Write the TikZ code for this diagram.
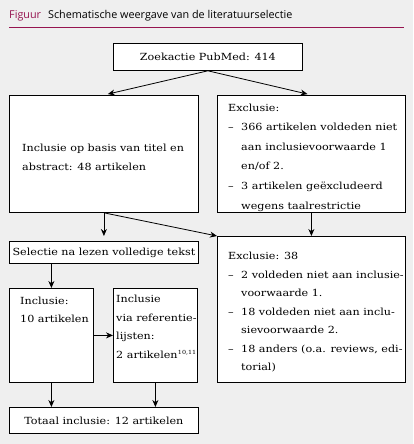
\documentclass[tikz,border=0pt]{standalone}
\usepackage{fontspec}
\setmainfont{DejaVu Serif}[FakeStretch=1.14]
\newfontfamily\titlefont{Open Sans}
\usetikzlibrary{arrows.meta}
\definecolor{bg}{RGB}{239,239,239}
\definecolor{crim}{RGB}{150,20,80}
\newcommand\myitem{\makebox[13pt][l]{–}}
\newcommand\myind{\hspace*{13pt}}
\newcommand\mysup[1]{\kern0.3pt\raisebox{3.6pt}{\fontsize{5.6}{7}\selectfont #1}}
\begin{document}
\begin{tikzpicture}[x=1pt,y=-1pt,
  box/.style={draw=black, line width=0.8pt, fill=white, inner sep=0pt, anchor=north west, font=\fontsize{9.8}{12}\selectfont},
  txt/.style={inner sep=0pt, anchor=north west, align=left},
  arr/.style={-{Stealth[length=7pt,width=6pt]}, line width=0.8pt}]
\fill[bg] (0,0) rectangle (413,444);
\useasboundingbox (0,0) rectangle (413,444);
\node[anchor=base west, inner sep=0pt, font=\titlefont\fontsize{10.8}{13}\selectfont] (title) at (9,19) {\textcolor{crim}{Figuur}\hspace{7pt}Schematische weergave van de literatuurselectie};
\draw[crim, line width=0.8pt] (9,27) -- (404,27);
\node[box, minimum width=189, minimum height=27] (zoek) at (113,43) {Zoekactie PubMed: 414};
\node[box, minimum width=189, minimum height=117] (incl) at (9,95) {};
\node[box, minimum width=188, minimum height=117] (excl1) at (217,95) {};
\node[box, minimum width=189, minimum height=22] (sel) at (9,241) {Selectie na lezen volledige tekst};
\node[box, minimum width=188, minimum height=146] (excl2) at (217,236) {};
\node[box, minimum width=84, minimum height=94] (incl10) at (9,288) {};
\node[box, minimum width=84, minimum height=94] (inclvia) at (113,288) {};
\node[box, minimum width=189, minimum height=26] (totaal) at (9,407) {Totaal inclusie: 12 artikelen};
\node[txt, font=\fontsize{9.8}{19.2}\selectfont] (tincl) at (22,143.5) {Inclusie op basis van titel en\\abstract: 48 artikelen};
\node[txt, font=\fontsize{9.8}{19.6}\selectfont] (texcl1) at (228,103.5) {Exclusie:\\\myitem 366 artikelen voldeden niet\\\myind aan inclusievoorwaarde 1\\\myind en/of 2.\\\myitem 3 artikelen geëxcludeerd\\\myind wegens taalrestrictie};
\node[txt, font=\fontsize{9.8}{18.5}\selectfont] (texcl2) at (228,252) {Exclusie: 38\\\myitem 2 voldeden niet aan inclusie-\\\myind voorwaarde 1.\\\myitem 18 voldeden niet aan inclu-\\\myind sievoorwaarde 2.\\\myitem 18 anders (o.a. reviews, edi-\\\myind torial)};
\node[txt, font=\fontsize{9.8}{18}\selectfont] (tincl10) at (20,297) {Inclusie:\\10 artikelen};
\node[txt, font=\fontsize{9.8}{18.5}\selectfont] (tinclvia) at (116,295) {Inclusie\\via referentie-\\lijsten:\\2 artikelen\mysup{10,11}};
\draw[arr, shorten >=4pt] (zoek.south) -- (incl.north);
\draw[arr, shorten >=4pt] (zoek.south) -- (excl1.north);
\draw[arr, shorten >=5pt] (incl.south) -- (sel.north);
\draw[arr] (incl.south) -- (excl2.north west);
\draw[arr] (excl1.south) -- (excl2.north);
\draw[arr] (incl10.north |- sel.south) -- (incl10.north);
\draw[arr] (incl10.east) -- (inclvia.west);
\draw[arr] (incl10.south) -- (incl10.south |- totaal.north);
\draw[arr] (inclvia.south) -- (inclvia.south |- totaal.north);
\end{tikzpicture}
\end{document}
